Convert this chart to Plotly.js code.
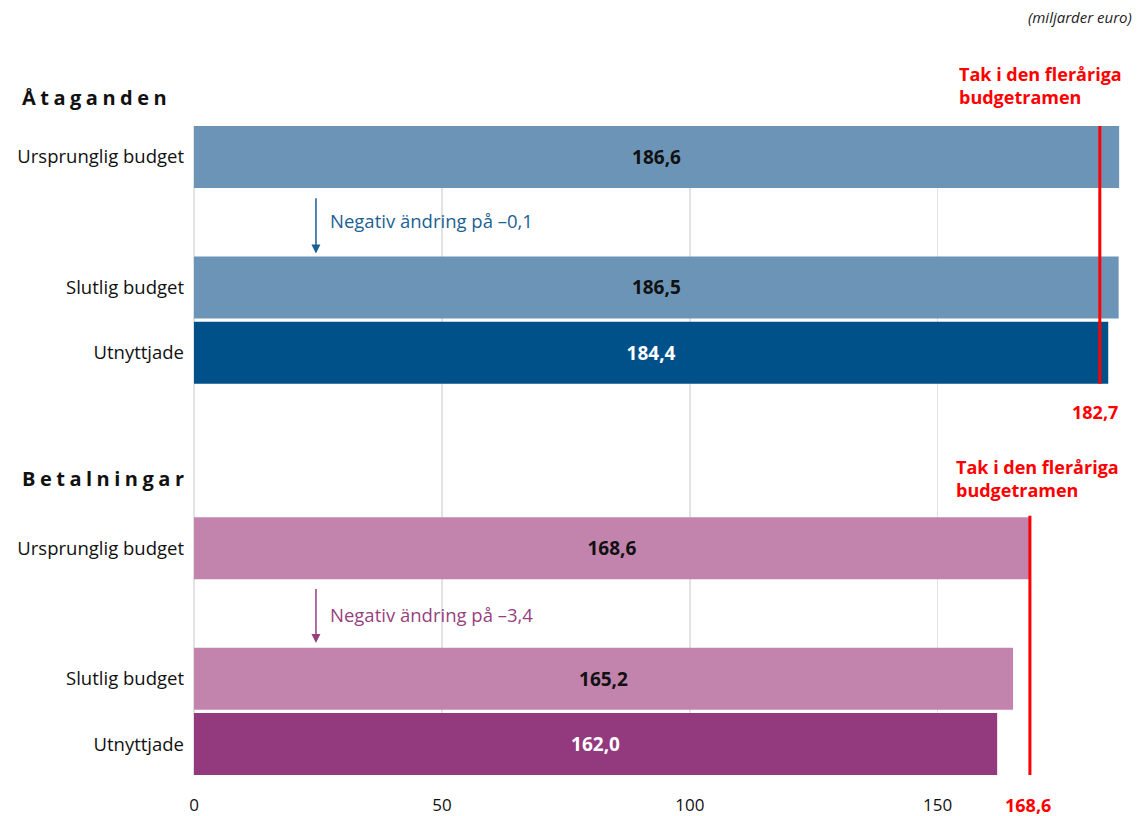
<!DOCTYPE html>
<html>
<head>
<meta charset="utf-8">
<script src="https://cdn.plot.ly/plotly-3.0.1.min.js"></script>
<style>
  html, body { margin: 0; padding: 0; background: #fff; }
  #chart { width: 1140px; height: 816px; }
</style>
</head>
<body>
<div id="chart"></div>
<script>
// ---- data ----
const categories = ['Ursprunglig budget', 'Slutlig budget', 'Utnyttjade'];
const commitments = [186.6, 186.5, 184.4];
const payments = [168.6, 165.2, 162.0];
const ceilings = [182.7, 168.6];
const changes = [-0.1, -3.4];
const groupTitles = ['Åtaganden', 'Betalningar'];
const ceilingLabel = 'Tak i den fleråriga<br>budgetramen';
const unitLabel = '(miljarder euro)';
const xTicks = [0, 50, 100, 150];

// ---- layout helpers ----
const W = 1140, H = 816;
const M = { l: 194, r: 4, t: 126, b: 41 };
const PW = W - M.l - M.r, PH = H - M.t - M.b;
const px2x = px => (px - M.l) / PW;
const py2y = py => (H - M.b - py) / PH;

const rowsA = [0, 2, 3];
const rowsB = [6, 8, 9];
const fmt = v => (v < 0 ? '\u2013' : '') + Math.abs(v).toFixed(1).replace('.', ',');

const FONT = 'Open Sans, Noto Sans, sans-serif';
const RED = '#ff0000';
const BLUE = '#1b5f93';
const PURPLE = '#963f80';

const traces = [
  {
    type: 'bar', orientation: 'h',
    y: rowsA, x: commitments, width: 0.95,
    marker: { color: ['#6c94b6', '#6c94b6', '#00518a'] },
    text: commitments.map(fmt),
    textposition: 'inside', insidetextanchor: 'middle',
    textfont: { family: FONT, size: 19, weight: 'bold', color: ['#111', '#111', '#fff'] },
    hoverinfo: 'skip', showlegend: false, cliponaxis: false
  },
  {
    type: 'bar', orientation: 'h',
    y: rowsB, x: payments, width: 0.95,
    marker: { color: ['#c283ad', '#c283ad', '#93397d'] },
    text: payments.map(fmt),
    textposition: 'inside', insidetextanchor: 'middle',
    textfont: { family: FONT, size: 19, weight: 'bold', color: ['#111', '#111', '#fff'] },
    hoverinfo: 'skip', showlegend: false, cliponaxis: false
  }
];

const shapes = [
  { type: 'line', xref: 'x', yref: 'y', x0: ceilings[0], x1: ceilings[0], y0: -0.51, y1: 3.475,
    line: { color: RED, width: 3 } },
  { type: 'line', xref: 'x', yref: 'y', x0: ceilings[1], x1: ceilings[1], y0: 5.5, y1: 9.475,
    line: { color: RED, width: 3 } }
];

const annotations = [
  { xref: 'paper', yref: 'paper', x: px2x(1134), y: py2y(17), xanchor: 'right', yanchor: 'middle',
    text: '<i>' + unitLabel + '</i>', showarrow: false, font: { family: FONT, size: 15, color: '#222' } },
  { xref: 'paper', yref: 'paper', x: px2x(22), y: py2y(97), xanchor: 'left', yanchor: 'middle',
    text: '<b>' + groupTitles[0] + '</b>', showarrow: false, font: { family: FONT, size: 20, color: '#111' } },
  { xref: 'paper', yref: 'paper', x: px2x(22), y: py2y(478), xanchor: 'left', yanchor: 'middle',
    text: '<b>' + groupTitles[1] + '</b>', showarrow: false, font: { family: FONT, size: 20, color: '#111' } },
  { xref: 'paper', yref: 'paper', x: px2x(958), y: py2y(85), xanchor: 'left', yanchor: 'middle', align: 'left',
    text: '<b>' + ceilingLabel + '</b>', showarrow: false, borderpad: 0, font: { family: FONT, size: 18, color: RED } },
  { xref: 'paper', yref: 'paper', x: px2x(955), y: py2y(479), xanchor: 'left', yanchor: 'middle', align: 'left',
    text: '<b>' + ceilingLabel + '</b>', showarrow: false, borderpad: 0, font: { family: FONT, size: 18, color: RED } },
  { xref: 'x', yref: 'paper', x: ceilings[0] - 1, y: py2y(412), xanchor: 'center', yanchor: 'middle',
    text: '<b>' + fmt(ceilings[0]) + '</b>', showarrow: false, borderpad: 0, font: { family: FONT, size: 18, color: RED } },
  { xref: 'x', yref: 'paper', x: ceilings[1] - 0.4, y: py2y(805), xanchor: 'center', yanchor: 'middle',
    text: '<b>' + fmt(ceilings[1]) + '</b>', showarrow: false, borderpad: 0, font: { family: FONT, size: 18, color: RED } },
  // change arrows
  { xref: 'x', yref: 'y', axref: 'x', ayref: 'y', x: 24.6, y: 1.48, ax: 24.6, ay: 0.61,
    text: '', showarrow: true, arrowhead: 2, arrowsize: 1.2, arrowwidth: 1.5, arrowcolor: BLUE },
  { xref: 'paper', yref: 'y', x: px2x(328), y: 0.97, xanchor: 'left', yanchor: 'middle',
    text: 'Negativ ändring på ' + fmt(changes[0]), showarrow: false, font: { family: FONT, size: 18.5, color: BLUE } },
  { xref: 'x', yref: 'y', axref: 'x', ayref: 'y', x: 24.6, y: 7.45, ax: 24.6, ay: 6.6,
    text: '', showarrow: true, arrowhead: 2, arrowsize: 1.2, arrowwidth: 1.5, arrowcolor: PURPLE },
  { xref: 'paper', yref: 'y', x: px2x(328), y: 7.02, xanchor: 'left', yanchor: 'middle',
    text: 'Negativ ändring på ' + fmt(changes[1]), showarrow: false, font: { family: FONT, size: 18.5, color: PURPLE } }
];

const layout = {
  width: W, height: H,
  margin: M,
  paper_bgcolor: '#fff', plot_bgcolor: '#fff',
  font: { family: FONT, color: '#111' },
  xaxis: {
    range: [0, 190], tickvals: xTicks, ticktext: xTicks.map(String),
    showgrid: true, gridcolor: '#e2e2e2', gridwidth: 1.5,
    zeroline: true, zerolinecolor: '#e2e2e2', zerolinewidth: 1.5,
    showline: false, ticks: '', ticklabelstandoff: 18,
    tickfont: { family: FONT, size: 17, color: '#111' }, fixedrange: true
  },
  yaxis: {
    range: [9.475, -0.475],
    tickvals: rowsA.concat(rowsB), ticktext: categories.concat(categories),
    showgrid: false, zeroline: false, showline: false, ticks: '', ticklabelstandoff: 9,
    tickfont: { family: FONT, size: 18.5, color: '#111' }, fixedrange: true
  },
  shapes: shapes,
  annotations: annotations
};

Plotly.newPlot('chart', traces, layout, { staticPlot: true, displayModeBar: false }).then(() => {
  const root = document.getElementById('chart').getBoundingClientRect();
  document.querySelectorAll('.annotation-text').forEach(t => {
    if (groupTitles.includes(t.textContent)) {
      t.style.letterSpacing = '4.5px';
      const r = t.getBoundingClientRect();
      const dx = 22 - (r.left - root.left);
      t.setAttribute('transform', 'translate(' + dx + ',0)');
    }
  });
});
</script>
</body>
</html>
